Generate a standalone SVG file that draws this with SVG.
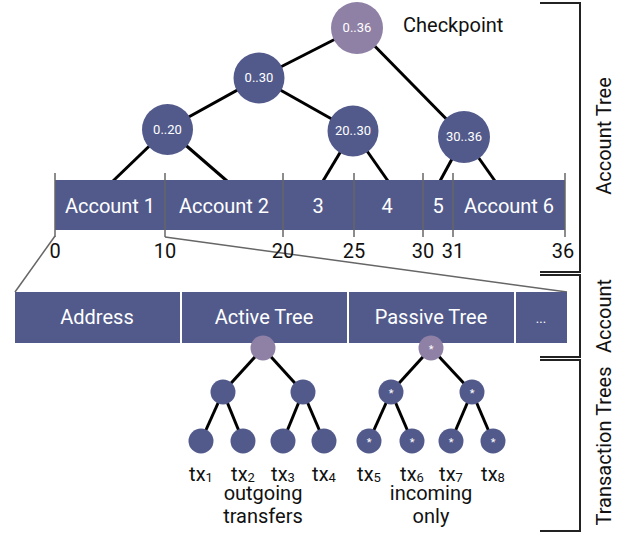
<svg xmlns="http://www.w3.org/2000/svg" width="630" height="533" viewBox="0 0 630 533">
<style>
.bar{fill:#525a8b}
.blue{fill:#525a8b}
.purple{fill:#8f80a5}
.edge{stroke:#000;stroke-width:3;fill:none}
.tick{stroke:#666;stroke-width:1.5;fill:none}
.br{stroke:#222;stroke-width:2;fill:none}
text{font-family:Roboto,"Liberation Sans",sans-serif}
.wt{fill:#fff;font-size:20px;text-anchor:middle}
.nt{fill:#fff;font-size:13px;text-anchor:middle}
.st{fill:#fff;font-size:11px;text-anchor:middle}
.bt{fill:#111;font-size:20px;text-anchor:middle}
.lt{fill:#111;font-size:20px}
</style>
<rect width="630" height="533" fill="#fff"/>
<g id="connectors">
<line class="edge" x1="357" y1="28" x2="259" y2="78"/>
<line class="edge" x1="357" y1="28" x2="464" y2="137"/>
<line class="edge" x1="259" y1="78" x2="167" y2="129"/>
<line class="edge" x1="259" y1="78" x2="353" y2="131"/>
<line class="edge" x1="167" y1="129" x2="113" y2="181"/>
<line class="edge" x1="167" y1="129" x2="227" y2="181"/>
<line class="edge" x1="353" y1="131" x2="323" y2="181"/>
<line class="edge" x1="353" y1="131" x2="388" y2="181"/>
<line class="edge" x1="464" y1="137" x2="440" y2="181"/>
<line class="edge" x1="464" y1="137" x2="495" y2="181"/>
<line class="tick" x1="55" y1="236" x2="15" y2="292"/>
<polyline class="tick" points="165,237 567,292"/>
<line class="edge" x1="263" y1="348" x2="223" y2="392"/>
<line class="edge" x1="263" y1="348" x2="303" y2="392"/>
<line class="edge" x1="223" y1="392" x2="201" y2="441"/>
<line class="edge" x1="223" y1="392" x2="243" y2="441"/>
<line class="edge" x1="303" y1="392" x2="283" y2="441"/>
<line class="edge" x1="303" y1="392" x2="324" y2="441"/>
<line class="edge" x1="431" y1="348" x2="391" y2="392"/>
<line class="edge" x1="431" y1="348" x2="472" y2="392"/>
<line class="edge" x1="391" y1="392" x2="369" y2="441"/>
<line class="edge" x1="391" y1="392" x2="412" y2="441"/>
<line class="edge" x1="472" y1="392" x2="451" y2="441"/>
<line class="edge" x1="472" y1="392" x2="493" y2="441"/>
</g>
<g id="account-bar">
<rect class="bar" x="55" y="180" width="510" height="50"/>
<text class="wt" x="110" y="213">Account 1</text>
<text class="wt" x="224" y="213">Account 2</text>
<text class="wt" x="318" y="213">3</text>
<text class="wt" x="387" y="213">4</text>
<text class="wt" x="438" y="213">5</text>
<text class="wt" x="509" y="213">Account 6</text>
<line class="tick" x1="55" y1="173" x2="55" y2="237"/>
<line class="tick" x1="165" y1="173" x2="165" y2="237"/>
<line class="tick" x1="283" y1="173" x2="283" y2="237"/>
<line class="tick" x1="354" y1="173" x2="354" y2="237"/>
<line class="tick" x1="423" y1="173" x2="423" y2="237"/>
<line class="tick" x1="453" y1="173" x2="453" y2="237"/>
<line class="tick" x1="565" y1="173" x2="565" y2="237"/>
<text class="bt" x="55" y="258">0</text>
<text class="bt" x="165" y="258">10</text>
<text class="bt" x="283" y="258">20</text>
<text class="bt" x="354" y="258">25</text>
<text class="bt" x="423" y="258">30</text>
<text class="bt" x="453" y="258">31</text>
<text class="bt" x="563" y="258">36</text>
</g>
<g id="node-checkpoint">
<circle class="purple" cx="357" cy="28" r="26"/>
<text class="nt" x="357" y="32">0..36</text>
<text class="lt" x="403" y="32">Checkpoint</text>
</g>
<g id="node-0-30"><circle class="blue" cx="259" cy="78" r="25.5"/><text class="nt" x="259" y="82">0..30</text></g>
<g id="node-0-20"><circle class="blue" cx="167.5" cy="129.5" r="25.5"/><text class="nt" x="167.5" y="134">0..20</text></g>
<g id="node-20-30"><circle class="blue" cx="353" cy="131" r="25.5"/><text class="nt" x="353" y="135">20..30</text></g>
<g id="node-30-36"><circle class="blue" cx="464" cy="137" r="26"/><text class="nt" x="464" y="141">30..36</text></g>
<g id="account-row">
<rect class="bar" x="15" y="292" width="165" height="51"/>
<rect class="bar" x="182" y="292" width="165" height="51"/>
<rect class="bar" x="349" y="292" width="165" height="51"/>
<rect class="bar" x="516" y="292" width="51" height="51"/>
<text class="wt" x="97" y="324">Address</text>
<text class="wt" x="264" y="324">Active Tree</text>
<text class="wt" x="431" y="324">Passive Tree</text>
<text class="nt" x="541" y="323">...</text>
</g>
<g id="active-tree">
<circle class="purple" cx="263" cy="348" r="12.5"/>
<circle class="blue" cx="223" cy="392" r="12.5"/>
<circle class="blue" cx="303" cy="392" r="12.5"/>
<circle class="blue" cx="201" cy="441" r="12.5"/>
<circle class="blue" cx="243" cy="441" r="12.5"/>
<circle class="blue" cx="283" cy="441" r="12.5"/>
<circle class="blue" cx="324" cy="441" r="12.5"/>
</g>
<g id="passive-tree">
<circle class="purple" cx="431" cy="348" r="12.5"/>
<circle class="blue" cx="391" cy="392" r="12.5"/>
<circle class="blue" cx="472" cy="392" r="12.5"/>
<circle class="blue" cx="369" cy="441" r="12.5"/>
<circle class="blue" cx="412" cy="441" r="12.5"/>
<circle class="blue" cx="451" cy="441" r="12.5"/>
<circle class="blue" cx="493" cy="441" r="12.5"/>
<text class="st" x="431" y="353">*</text>
<text class="st" x="391" y="397">*</text>
<text class="st" x="472" y="397">*</text>
<text class="st" x="369" y="446">*</text>
<text class="st" x="412" y="446">*</text>
<text class="st" x="451" y="446">*</text>
<text class="st" x="493" y="446">*</text>
</g>
<g id="tx-labels">
<text class="bt" x="201" y="481">tx<tspan font-size="13" dy="1">1</tspan></text>
<text class="bt" x="243" y="481">tx<tspan font-size="13" dy="1">2</tspan></text>
<text class="bt" x="283" y="481">tx<tspan font-size="13" dy="1">3</tspan></text>
<text class="bt" x="324" y="481">tx<tspan font-size="13" dy="1">4</tspan></text>
<text class="bt" x="369" y="481">tx<tspan font-size="13" dy="1">5</tspan></text>
<text class="bt" x="412" y="481">tx<tspan font-size="13" dy="1">6</tspan></text>
<text class="bt" x="451" y="481">tx<tspan font-size="13" dy="1">7</tspan></text>
<text class="bt" x="493" y="481">tx<tspan font-size="13" dy="1">8</tspan></text>
<text class="bt" x="263" y="500">outgoing</text>
<text class="bt" x="263" y="523">transfers</text>
<text class="bt" x="431" y="500">incoming</text>
<text class="bt" x="431" y="523">only</text>
</g>
<g id="brackets">
<polyline class="br" points="540,3 580,3 580,272 540,272"/>
<polyline class="br" points="540,275 580,275 580,357 540,357"/>
<polyline class="br" points="540,360 580,360 580,531 540,531"/>
<text class="bt" transform="translate(611,136) rotate(-90)">Account Tree</text>
<text class="bt" transform="translate(611,316) rotate(-90)">Account</text>
<text class="bt" transform="translate(611,446) rotate(-90)">Transaction Trees</text>
</g>
</svg>
